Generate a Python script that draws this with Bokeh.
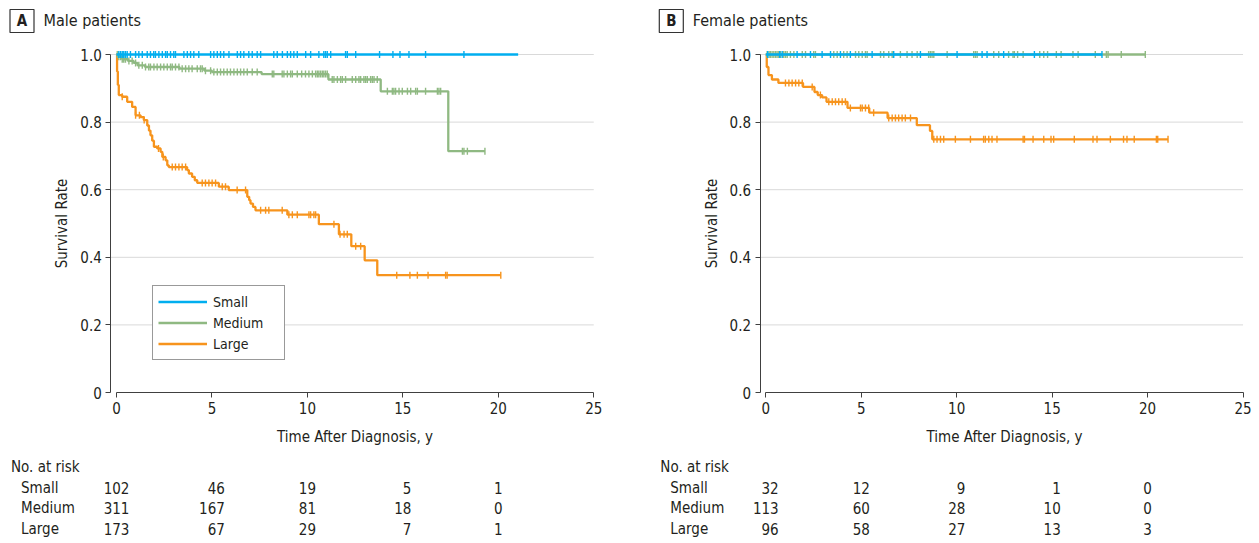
import numpy as np
from bokeh.plotting import figure
from bokeh.layouts import row
from bokeh.models import Range1d, FixedTicker, Legend, LegendItem, ColumnDataSource
from bokeh.embed import file_html
from bokeh.resources import INLINE
from bokeh.core.properties import value

# ---------------- data ----------------
GROUPS = ["Small", "Medium", "Large"]
COLORS = {"Small": "#00aeef", "Medium": "#8fb982", "Large": "#f7941d"}

# Panel A: Male patients (step times / survival after each step; last entry = end of follow-up)
A_SMALL_T = [0.0, 21.04]
A_SMALL_S = [1.0, 1.0]
A_SMALL_C = [0.12, 0.21, 0.30, 0.38, 0.47, 0.56, 0.73, 1.00, 1.17, 1.35, 1.61, 1.78, 1.95, 2.04,
             2.22, 2.40, 2.57, 2.66, 2.83, 3.00, 3.09, 3.53, 3.71, 3.88, 4.05, 4.31, 4.93, 5.10,
             5.28, 5.45, 5.62, 5.89, 6.33, 6.50, 6.67, 6.93, 7.11, 7.37, 7.55, 8.24, 8.42, 8.69,
             8.95, 9.12, 9.29, 9.47, 9.91, 10.17, 10.60, 10.86, 10.95, 11.04, 11.22, 12.00,
             12.09, 12.53, 13.78, 14.48, 14.85, 15.32, 16.19, 18.20]

A_MED_T = [0.0, 0.08, 0.3, 0.6, 0.9, 1.1, 1.5, 3.3, 4.6, 5.0, 7.6, 11.1, 13.84, 17.38, 19.3]
A_MED_S = [1.0, 0.993, 0.986, 0.981, 0.975, 0.968, 0.963, 0.958, 0.952, 0.948, 0.942, 0.926,
           0.891, 0.714, 0.714]
A_MED_C = [0.04, 0.12, 0.21, 0.30, 0.38, 0.47, 0.65, 0.82, 1.00, 1.17, 1.35, 1.52, 1.69, 1.78,
           1.96, 2.13, 2.31, 2.48, 2.66, 2.83, 2.92, 3.09, 3.27, 3.44, 3.62, 3.79, 3.96, 4.23,
           4.40, 4.49, 4.66, 4.93, 5.10, 5.28, 5.45, 5.62, 5.80, 5.97, 6.15, 6.33, 6.50, 6.67,
           6.85, 7.11, 7.37, 8.16, 8.24, 8.68, 8.77, 8.95, 9.12, 9.21, 9.47, 9.70, 9.90, 10.08,
           10.26, 10.43, 10.52, 10.60, 10.69, 10.78, 10.86, 10.95, 11.04, 11.30, 11.39, 11.57,
           11.74, 11.83, 12.00, 12.35, 12.53, 12.70, 12.79, 12.96, 13.05, 13.14, 13.31, 13.40,
           13.49, 13.66, 14.19, 14.45, 14.53, 14.62, 14.80, 14.97, 15.24, 15.41, 15.67, 15.76,
           16.19, 16.81, 16.89, 16.98, 18.12, 18.20, 18.38, 19.30]

A_LARGE_T = [0.0, 0.03, 0.07, 0.12, 0.3, 0.56, 0.82, 1.0, 1.26, 1.43, 1.61, 1.70, 1.78, 1.87,
             1.96, 2.13, 2.31, 2.40, 2.57, 2.66, 2.74, 3.70, 3.79, 3.96, 4.10, 4.23, 5.36, 5.88,
             6.85, 6.95, 7.02, 7.15, 7.28, 8.95, 10.6, 11.65, 12.3, 13.0, 13.66, 20.13]
A_LARGE_S = [1.0, 0.95, 0.91, 0.88, 0.875, 0.86, 0.845, 0.82, 0.815, 0.806, 0.79, 0.775, 0.761,
             0.745, 0.727, 0.722, 0.712, 0.697, 0.687, 0.672, 0.667, 0.658, 0.648, 0.638, 0.628,
             0.620, 0.609, 0.599, 0.579, 0.569, 0.559, 0.549, 0.539, 0.526, 0.498, 0.468, 0.433,
             0.391, 0.347, 0.347]
A_LARGE_C = [0.3, 1.0, 1.2, 1.45, 2.2, 2.45, 2.92, 3.09, 3.27, 3.44, 3.62, 4.49, 4.66, 4.84,
             5.01, 5.19, 5.54, 5.71, 6.32, 6.76, 7.55, 7.81, 7.98, 8.68, 9.03, 9.21, 9.47, 10.08,
             10.17, 10.34, 10.43, 11.39, 11.71, 11.92, 12.09, 12.53, 12.79, 14.68, 15.37, 15.76,
             16.32, 17.24, 17.32, 20.13]

# Panel B: Female patients
B_SMALL_T = [0.0, 17.61]
B_SMALL_S = [1.0, 1.0]
B_SMALL_C = [0.10, 0.73, 0.86, 1.64, 2.34, 2.95, 3.39, 3.91, 4.43, 5.57, 6.70, 8.10, 10.02,
             11.33, 11.59, 12.46, 14.07, 17.61]

B_MED_T = [0.0, 19.88]
B_MED_S = [1.0, 1.0]
B_MED_C = [0.07, 0.17, 0.24, 0.33, 0.42, 0.51, 0.59, 0.68, 0.77, 0.94, 1.03, 1.12, 1.29, 1.47,
           1.91, 2.08, 2.51, 2.60, 3.56, 3.74, 4.08, 4.26, 4.70, 4.87, 5.05, 5.22, 5.31, 6.01,
           6.18, 6.44, 6.62, 7.05, 7.40, 7.66, 7.93, 8.53, 8.62, 8.71, 8.80, 9.50, 10.89, 10.98,
           11.07, 11.94, 12.20, 12.72, 12.95, 13.02, 13.19, 13.48, 14.35, 14.56, 14.76, 15.22,
           15.47, 16.09, 16.36, 17.26, 17.84, 17.93, 18.62, 19.88]

B_LARGE_T = [0.0, 0.05, 0.14, 0.32, 0.66, 1.95, 2.55, 2.72, 2.95, 3.18, 4.28, 5.42, 6.38, 7.91,
             8.60, 8.72, 21.07]
B_LARGE_S = [1.0, 0.963, 0.939, 0.926, 0.916, 0.904, 0.889, 0.880, 0.873, 0.860, 0.842, 0.828,
             0.812, 0.791, 0.774, 0.749, 0.749]
B_LARGE_C = [1.03, 1.21, 1.38, 1.56, 1.73, 1.91, 2.43, 2.86, 3.30, 3.48, 3.65, 3.82, 4.00, 4.17,
             4.43, 4.96, 5.05, 5.22, 5.39, 5.65, 6.44, 6.62, 6.79, 6.96, 7.14, 7.31, 7.58, 8.80,
             8.97, 9.15, 9.32, 9.93, 10.72, 11.41, 11.50, 11.68, 11.85, 12.11, 13.48, 13.55,
             14.00, 14.56, 14.94, 15.08, 16.16, 17.14, 17.35, 18.05, 18.74, 18.92, 19.30, 20.46,
             20.53, 21.07]

# Number at risk
RISK_TIMES = [0, 5, 10, 15, 20]
A_RISK = {"Small": [102, 46, 19, 5, 1], "Medium": [311, 167, 81, 18, 0], "Large": [173, 67, 29, 7, 1]}
B_RISK = {"Small": [32, 12, 9, 1, 0], "Medium": [113, 60, 28, 10, 0], "Large": [96, 58, 27, 13, 3]}

X_TICKS = [0, 5, 10, 15, 20, 25]
Y_TICKS = [0, 0.2, 0.4, 0.6, 0.8, 1.0]
Y_LABELS = ["0", "0.2", "0.4", "0.6", "0.8", "1.0"]

PANELS = [
    dict(letter="A", title="Male patients",
         curves={"Small": (A_SMALL_T, A_SMALL_S, A_SMALL_C), "Medium": (A_MED_T, A_MED_S, A_MED_C),
                 "Large": (A_LARGE_T, A_LARGE_S, A_LARGE_C)},
         risk=A_RISK, legend=True),
    dict(letter="B", title="Female patients",
         curves={"Small": (B_SMALL_T, B_SMALL_S, B_SMALL_C), "Medium": (B_MED_T, B_MED_S, B_MED_C),
                 "Large": (B_LARGE_T, B_LARGE_S, B_LARGE_C)},
         risk=B_RISK, legend=False),
]

# ---------------- layout / style ----------------
FONT = "DejaVu Sans Condensed, Liberation Sans Narrow, sans-serif"
TXT = "#231f20"
AX = "#404040"
GRID = "#d9d9d9"
FIG_W = [638, 618]
FIG_H = 540
X0_PX = [116.0, 127.3]   # pixel column of t = 0, from each figure's left edge
Y0_PX = 392.0            # pixel row of survival = 0, from the top
PX = 19.09               # pixels per year
PY = 338.0               # pixels per unit of survival
AXIS_X = -0.3            # where the survival axis stands
DIGIT_W = 8.6


def km_at(times, surv, t):
    idx = np.searchsorted(np.asarray(times), np.asarray(t), side="right") - 1
    return list(np.asarray(surv)[idx])


def xd(px_rel):
    """years for a pixel offset from the t=0 column"""
    return px_rel / PX


def yd(px_from_top):
    return (Y0_PX - px_from_top) / PY


def make_panel(i, cfg):
    W = FIG_W[i]
    X0 = X0_PX[i]
    p = figure(width=W, height=FIG_H,
               x_range=Range1d(-X0 / PX, (W - X0) / PX),
               y_range=Range1d(-(FIG_H - Y0_PX) / PY, Y0_PX / PY),
               toolbar_location=None, output_backend="svg", min_border=0,
               outline_line_color=None)
    p.grid.visible = False

    # horizontal grid lines, from the survival axis to the end of the time axis
    gy = Y_TICKS[1:]
    p.segment(x0=[AXIS_X] * len(gy), x1=[X_TICKS[-1]] * len(gy), y0=gy, y1=gy,
              line_color=GRID, line_width=1)

    p.xaxis.fixed_location = 0
    p.yaxis.fixed_location = AXIS_X
    p.xaxis.ticker = FixedTicker(ticks=X_TICKS)
    p.yaxis.ticker = FixedTicker(ticks=Y_TICKS)
    p.yaxis.major_label_overrides = {t: l for t, l in zip(Y_TICKS, Y_LABELS)}
    p.xaxis.bounds = (X_TICKS[0], X_TICKS[-1])
    p.yaxis.bounds = (Y_TICKS[0], Y_TICKS[-1])
    p.xaxis.axis_label = "Time After Diagnosis, y"
    p.yaxis.axis_label = "Survival Rate"
    for ax in (p.xaxis, p.yaxis):
        ax.axis_line_color = AX
        ax.major_tick_line_color = AX
        ax.major_tick_out = 5
        ax.major_tick_in = 0
        ax.minor_tick_line_color = None
        ax.major_label_text_font = FONT
        ax.major_label_text_font_size = "15px"
        ax.major_label_text_color = TXT
        ax.axis_label_text_font = FONT
        ax.axis_label_text_font_size = "15px"
        ax.axis_label_text_font_style = "normal"
        ax.axis_label_text_color = TXT
        ax.major_label_standoff = 4
    p.xaxis.axis_label_standoff = 11
    p.yaxis.axis_label_standoff = 6

    renderers = {}
    for g in ["Large", "Medium", "Small"]:
        t, s, c = cfg["curves"][g]
        col = COLORS[g]
        r = p.step(x=t, y=s, mode="after", line_color=col, line_width=2.3)
        renderers[g] = r
        p.scatter(x=c, y=km_at(t, s, c), marker="dash", angle=np.pi / 2, size=7,
                  line_color=col, line_width=1.4)

    if cfg["legend"]:
        leg = Legend(items=[LegendItem(label=g, renderers=[renderers[g]]) for g in GROUPS],
                     location=(152, FIG_H - 360))
        leg.label_text_font = FONT
        leg.label_text_font_size = "14px"
        leg.label_text_color = TXT
        leg.border_line_color = "#333333"
        leg.border_line_width = 1
        leg.background_fill_alpha = 1
        leg.padding = 5
        leg.spacing = 0
        leg.glyph_width = 49
        leg.glyph_height = 21
        leg.label_height = 21
        leg.label_width = 66
        leg.label_standoff = 6
        leg.margin = 0
        p.add_layout(leg)

    # header: boxed panel letter and title
    p.rect(x=[xd(-107 + 12.5)], y=[yd(20.5)], width=24, height=23, width_units="screen",
           height_units="screen", fill_color=None, line_color="#333333", line_width=1.2)
    p.text(x=[xd(-107 + 12.5)], y=[yd(20.5)], text=[cfg["letter"]], text_font=value(FONT),
           text_font_size="15px", text_font_style="bold", text_align="center",
           text_baseline="middle", text_color=TXT)
    p.text(x=[xd(-73)], y=[yd(20)], text=[cfg["title"]], text_font=value(FONT),
           text_font_size="16px", text_align="left", text_baseline="middle",
           text_color=TXT)

    # number-at-risk table
    p.text(x=[xd(-105.5)], y=[yd(466)], text=["No. at risk"], text_font=value(FONT),
           text_font_size="15px", text_align="left", text_baseline="middle", text_color=TXT)
    row_px = [487, 507, 528]
    p.text(x=[xd(-95.5)] * 3, y=[yd(r) for r in row_px], text=GROUPS, text_font=value(FONT),
           text_font_size="15px", text_align="left", text_baseline="middle", text_color=TXT)
    xs, ys, txt, offs = [], [], [], []
    for j, tt in enumerate(RISK_TIMES):
        maxd = max(len(str(cfg["risk"][g][j])) for g in GROUPS)
        for k, g in enumerate(GROUPS):
            xs.append(tt)
            ys.append(yd(row_px[k]))
            txt.append(str(cfg["risk"][g][j]))
            offs.append(maxd * DIGIT_W / 2)
    src = ColumnDataSource(dict(x=xs, y=ys, text=txt, off=offs))
    p.text(x="x", y="y", text="text", x_offset="off", source=src, text_font=value(FONT),
           text_font_size="15px", text_align="right", text_baseline="middle",
           text_color=TXT)
    return p


layout = row(*[make_panel(i, c) for i, c in enumerate(PANELS)], spacing=0)

with open("out.html", "w") as f:
    f.write(file_html(layout, INLINE))
